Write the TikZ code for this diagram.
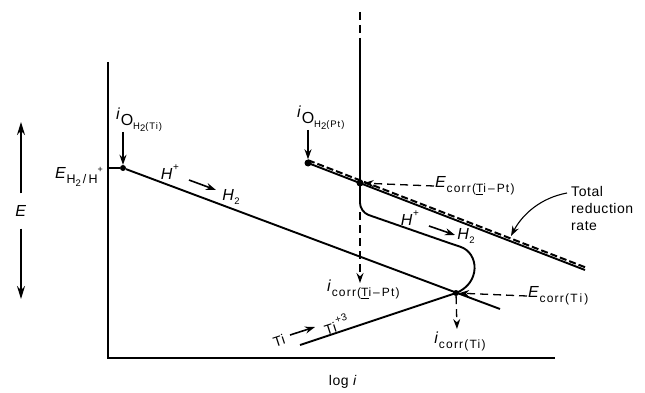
\documentclass[tikz,border=0pt]{standalone}
\usepackage{fontspec}
\setmainfont{Liberation Sans}[LetterSpace=4]
\newfontfamily\subf{Liberation Sans}[LetterSpace=10]
\usetikzlibrary{arrows.meta}
\newcommand{\sbx}[1]{\raisebox{-0.55ex}{\subf\fontsize{12}{12}\selectfont #1}}
\newcommand{\ssbx}[1]{\raisebox{-0.5ex}{\subf\fontsize{9.5}{9.5}\selectfont #1}}
\newcommand{\sps}[1]{\raisebox{1.1ex}{\fontsize{10}{10}\selectfont #1}}
\tikzset{
  ax/.style={line width=1.6pt},
  ln/.style={line width=1.9pt},
  dsh/.style={line width=1.3pt, dash pattern=on 8pt off 5pt},
  arr/.style={-{Stealth[length=10pt,width=7pt]}},
  bigarr/.style={-{Stealth[length=13pt,width=8pt]}},
  dot/.style={circle, fill, inner sep=0pt, minimum size=6pt},
  lab/.style={font=\fontsize{16}{18}\selectfont, inner sep=1pt},
  txt/.style={font=\fontsize{14}{18}\selectfont, inner sep=1pt},
}
\begin{document}
\begin{tikzpicture}[x=1pt,y=-1pt]
\useasboundingbox (0,0) rectangle (645,393);
% axes
\coordinate (ytop) at (108,62);
\coordinate (orig) at (108,358);
\coordinate (xend) at (555,358);
\draw[ax] (ytop) -- (orig) -- (xend);
\node[txt] (logi) at (343,382) {log \textit{i}};
% E arrows
\node[lab, inner ysep=12pt] (Elab) at (21,211) {\textit{E}};
\coordinate (Eup) at (21,122);
\coordinate (Edn) at (21,299);
\draw[ln, bigarr] (Elab.north) -- (Eup);
\draw[ln, bigarr] (Elab.south) -- (Edn);
% Ti hydrogen line
\node[lab, anchor=east] (eh) at (104,177) {\textit{E}\raisebox{-0.55ex}{\subf\fontsize{12.5}{12.5}\selectfont H\ssbx{2}\,/\,H\raisebox{1.7ex}{\fontsize{9}{9}\selectfont +}}};
\coordinate (axT) at (108,168);
\node[dot] (oti) at (123,168) {};
\draw[ln] (axT) -- (oti);
\coordinate (h2end) at (500,309);
\draw[ln] (oti) -- (h2end);
\node[dot] (ecti) at (456,293) {};
\coordinate (tistart) at (300,345);
\draw[ln] (tistart) -- (ecti.center);
% i_O H2(Ti)
\node[lab, anchor=south west] (ioti) at (115,133) {\textit{i}\raisebox{-0.6ex}{O\ssbx{H\ssbx{2}(Ti)}}};
\coordinate (iotiA) at (123,132);
\draw[line width=1.3pt, arr] (iotiA) -- (oti.north);
% H+ -> H2 on Ti
\node[lab] (hp1) at (170,172) {\textit{H}\sps{+}};
\node[lab] (h21) at (231,197) {\textit{H}\ssbx{2}};
\coordinate (a1s) at (189,180);
\coordinate (a1e) at (216,190);
\draw[line width=1.6pt, arr] (a1s) -- (a1e);
% Ti -> Ti+3
\node[txt, rotate=18, inner sep=0pt] (ti1) at (279,341) {Ti};
\node[txt, rotate=18, inner sep=0pt] (ti3) at (336,324) {Ti\kern1.5pt\sps{+3}};
\coordinate (a2s) at (290,335);
\coordinate (a2e) at (315,327);
\draw[line width=1.6pt, arr] (a2s) -- (a2e);
% Pt line and total reduction rate
\node[dot, minimum size=7pt] (opt) at (308,163) {};
\coordinate (totend) at (585,270);
\draw[ln] (opt.center) -- (totend);
\draw[line width=2pt, dash pattern=on 7pt off 3pt] ([yshift=2.8pt]opt.center) -- ([yshift=2.8pt]totend);
\node[dot, minimum size=7pt] (ectp) at (360,183) {};
\node[lab, anchor=south west] (iopt) at (296,131) {\textit{i}\raisebox{-0.6ex}{O\ssbx{H\ssbx{2}(Pt)}}};
\coordinate (ioptA) at (308,130);
\draw[line width=1.3pt, arr] (ioptA) -- (opt.north);
% vertical Pt line
\coordinate (vtop) at (360,12);
\coordinate (vmid) at (360,45);
\coordinate (corner) at (360,212);
\draw[dsh] (vtop) -- (vmid);
\draw[ln, rounded corners=9pt] (vmid) -- (corner) -- (452,244) .. controls (479,253) and (481,283) .. (ecti.center);
% H+ -> H2 on Ti-Pt
\node[lab] (hp2) at (410,218) {\textit{H}\sps{+}};
\node[lab] (h22) at (466,236) {\textit{H}\ssbx{2}};
\coordinate (a3s) at (429,226);
\coordinate (a3e) at (455,235);
\draw[line width=1.6pt, arr] (a3s) -- (a3e);
% i_corr(Ti-Pt)
\coordinate (ictp) at (360,283);
\draw[dsh, arr] (corner) -- (ictp);
\node[lab, anchor=north west] (ictplab) at (326,279) {\textit{i}\sbx{corr(\underline{T}i\,–\,Pt)}};
% E_corr(Ti-Pt)
\node[lab, anchor=west] (ectplab) at (434,186) {\textit{E}\sbx{corr(\underline{T}i\,–\,Pt)}};
\draw[dsh, arr] (ectplab.west) -- (ectp);
% E_corr(Ti)
\node[lab, anchor=west] (ectilab) at (527,296) {\textit{E}\sbx{corr(T\,i\,)}};
\draw[dsh, arr] (ectilab.west) -- (ecti);
% i_corr(Ti)
\coordinate (icti) at (457,329);
\draw[dsh, arr] (ecti) -- (icti);
\node[lab, anchor=north] (ictilab) at (460,331) {\textit{i}\sbx{corr(Ti)}};
% total reduction rate label
\node[txt, anchor=north west, align=left, font=\fontsize{14}{17}\selectfont] (trr) at (570,185) {Total\\reduction\\rate};
\coordinate (trrA) at (511,236);
\draw[line width=1.1pt, arr] ([xshift=-3pt,yshift=-8pt]trr.north west) .. controls (540,198) and (522,215) .. (trrA);
\end{tikzpicture}
\end{document}
